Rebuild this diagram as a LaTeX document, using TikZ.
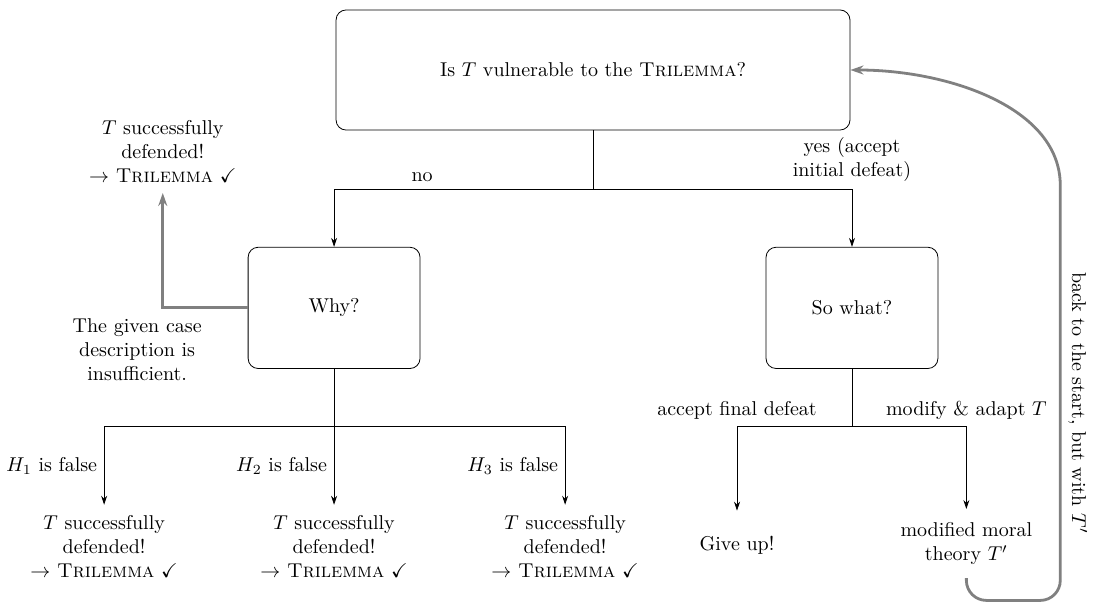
\documentclass[tikz,border=0pt]{standalone}
\usepackage{amssymb}
\usetikzlibrary{arrows.meta,positioning}
\newcommand{\tril}{\textsc{Trilemma}}
\newcommand{\defended}{$T$ successfully\\defended!\\$\rightarrow$ \tril{} \checkmark}
\begin{document}
\begin{tikzpicture}[>={Stealth[length=4.5pt,width=3pt]},
  box/.style={draw, rounded corners=5pt, minimum width=3.02cm, minimum height=2.13cm, align=center},
  leaf/.style={align=center, minimum height=1.2cm, inner ysep=5pt},
  back/.style={draw=gray, line width=1.4pt, -{Stealth[length=6.5pt,width=4.5pt]}}]
\useasboundingbox (0,0) rectangle (19.24,10.60);
% the question
\node[box, minimum width=9.03cm, minimum height=2.11cm] (top) at (10.42,9.37) {Is $T$ vulnerable to the \tril?};
\node[box] (why) at (5.87,5.19) {Why?};
\node[box] (sowhat) at (14.97,5.19) {So what?};
\coordinate (topfork) at (10.42,7.28);
\draw (top.south) -- (topfork);
\draw[->] (topfork) -| node[above, pos=0.33] {no} (why.north);
\draw[->] (topfork) -| node[above, align=center] {yes (accept\\initial defeat)} (sowhat.north);
% why?
\node[leaf] (ok0) at (2.86,7.94) {\defended};
\draw[back] (why.west) -| (ok0.south);
\node[align=center] (insuff) at (2.41,4.46) {The given case\\description is\\insufficient.};
\coordinate (whyfork) at (5.87,3.11);
\node[leaf] (ok1) at (1.83,1.00) {\defended};
\node[leaf] (ok2) at (5.87,1.00) {\defended};
\node[leaf] (ok3) at (9.93,1.00) {\defended};
\draw (why.south) -- (whyfork);
\draw[->] (whyfork) -| node[left, pos=0.75] {$H_1$ is false} (ok1.north);
\draw[->] (whyfork) -- node[left] {$H_2$ is false} (ok2.north);
\draw[->] (whyfork) -| node[left, pos=0.75] {$H_3$ is false} (ok3.north);
% so what?
\coordinate (swfork) at (14.97,3.11);
\node[leaf] (giveup) at (12.95,1.02) {Give up!};
\node[leaf] (newT) at (16.98,1.05) {modified moral\\theory $T'$};
\draw (sowhat.south) -- (swfork);
\draw[->] (swfork) -| node[above] {accept final defeat} (giveup.north);
\draw[->] (swfork) -| node[above] {modify \& adapt $T$} (newT.north);
% loop back to the question
\draw[back, rounded corners=10pt] (newT.south) |- (18.63,0.05)
  -- node[midway, rotate=-90, anchor=south] {back to the start, but with $T'$} (18.63,6.99)
  to[out=90, in=0] (top.east);
\end{tikzpicture}
\end{document}
